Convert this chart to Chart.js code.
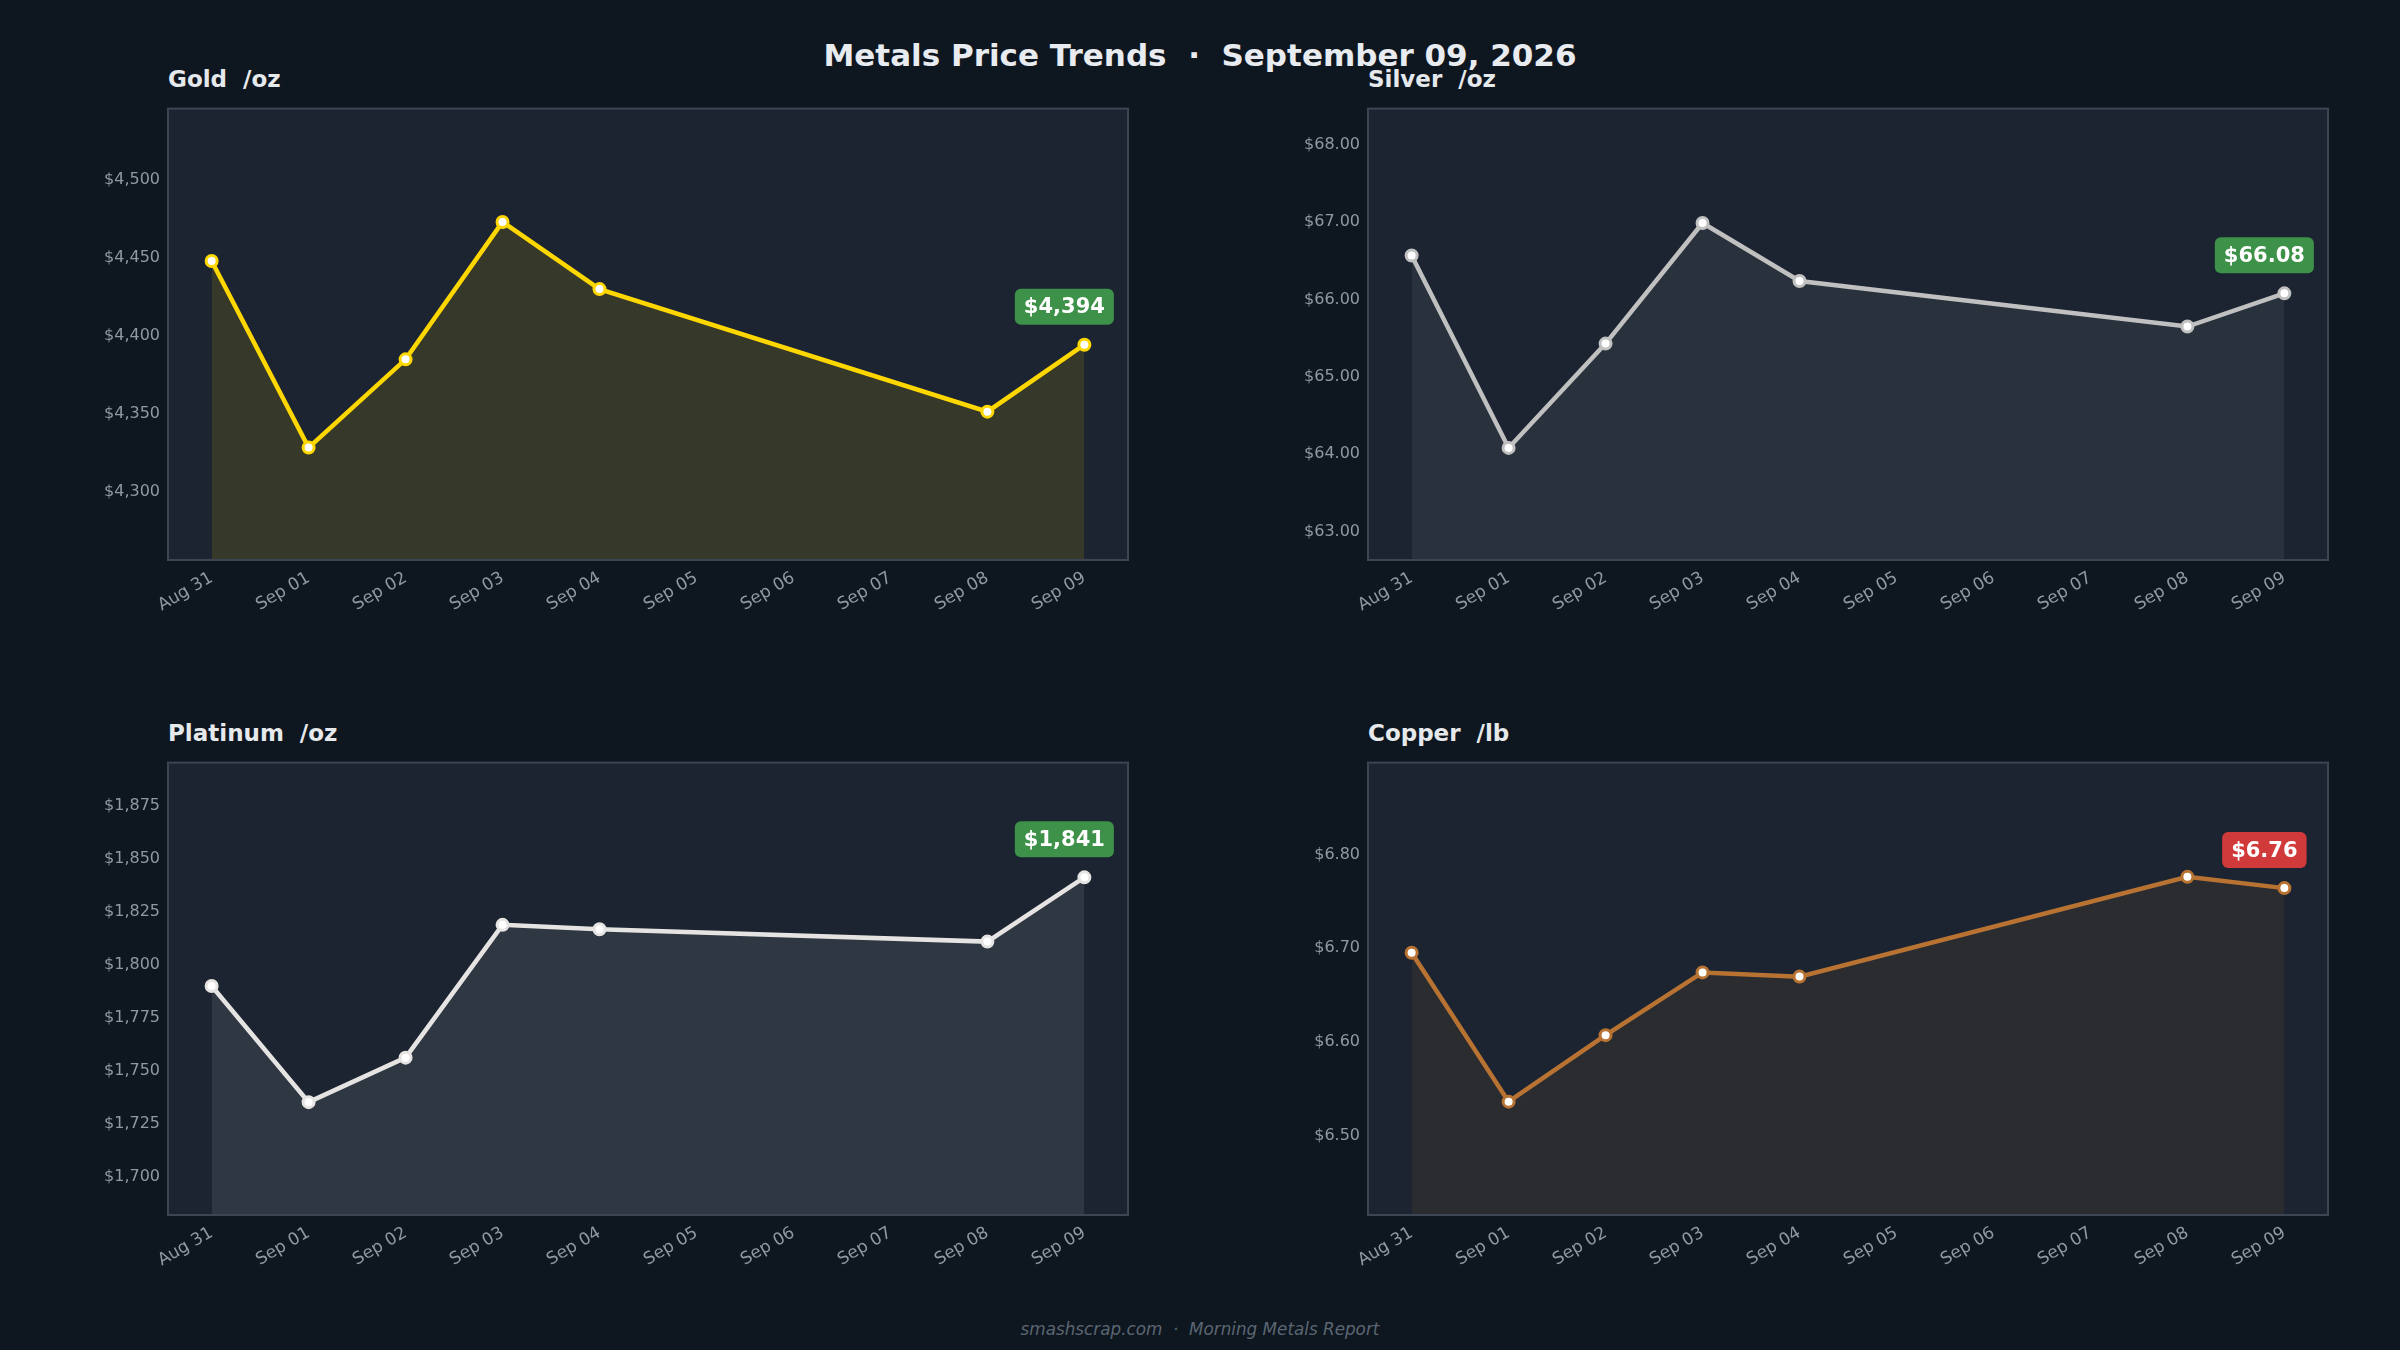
<!DOCTYPE html>
<html>
<head>
<meta charset="utf-8">
<script src="https://cdn.jsdelivr.net/npm/chart.js@4"></script>
<style>
  body { margin: 0; background: #0e1620; width: 2400px; height: 1350px; overflow: hidden; font-family: "DejaVu Sans", sans-serif; }
  .txt { position: absolute; white-space: pre; line-height: 1; }
  #title { left: 0; width: 2400px; top: 40px; text-align: center; font-size: 31px; font-weight: bold; color: #e8ebef; }
  .sub { font-size: 23px; font-weight: bold; color: #e6e9ec; }
  #footer { left: 0; width: 2400px; top: 1321px; text-align: center; font-size: 16.8px; font-style: italic; color: #5c6672; }
  .box { position: absolute; }
</style>
</head>
<body>
<div id="title" class="txt">Metals Price Trends  ·  September 09, 2026</div>
<div class="txt sub" style="left:168px;top:68px">Gold  /oz</div>
<div class="txt sub" style="left:1368px;top:68px">Silver  /oz</div>
<div class="txt sub" style="left:168px;top:722px">Platinum  /oz</div>
<div class="txt sub" style="left:1368px;top:722px">Copper  /lb</div>
<div id="footer" class="txt">smashscrap.com  ·  Morning Metals Report</div>

<div class="box" style="left:58px;top:91px"><canvas id="gold" width="1080" height="559"></canvas></div>
<div class="box" style="left:1258px;top:91px"><canvas id="silver" width="1080" height="559"></canvas></div>
<div class="box" style="left:58px;top:745px"><canvas id="platinum" width="1080" height="560"></canvas></div>
<div class="box" style="left:1258px;top:745px"><canvas id="copper" width="1080" height="560"></canvas></div>

<script>
// dates on the x axis (no prices for Sep 05-07)
var dates = ['Aug 31', 'Sep 01', 'Sep 02', 'Sep 03', 'Sep 04', 'Sep 05', 'Sep 06', 'Sep 07', 'Sep 08', 'Sep 09'];

var gold     = [4448, 4328.5, 4385, 4473, 4430, null, null, null, 4351.5, 4394.4];
var silver   = [66.57, 64.08, 65.43, 66.99, 66.24, null, null, null, 65.65, 66.08];
var platinum = [1790, 1735.2, 1756.2, 1818.8, 1816.7, null, null, null, 1810.9, 1841.2];
var copper   = [6.695, 6.536, 6.607, 6.674, 6.6695, null, null, null, 6.776, 6.764];

var goldTicks     = [4300, 4350, 4400, 4450, 4500];
var silverTicks   = [63, 64, 65, 66, 67, 68];
var platinumTicks = [1700, 1725, 1750, 1775, 1800, 1825, 1850, 1875];
var copperTicks   = [6.5, 6.6, 6.7, 6.8];

// visible y range of each panel
var goldRange     = [4256.5, 4545.6];
var silverRange   = [62.63, 68.47];
var platinumRange = [1682, 1895.3];
var copperRange   = [6.415, 6.898];

function money(v, dec) {
  return '$' + v.toLocaleString('en-US', { minimumFractionDigits: dec, maximumFractionDigits: dec });
}

// plot background + frame
var panelBg = {
  id: 'panelBg',
  beforeDraw: function(chart) {
    var a = chart.chartArea, ctx = chart.ctx;
    ctx.save();
    ctx.fillStyle = '#1b2430';
    ctx.fillRect(a.left, a.top, a.right - a.left, a.bottom - a.top);
    ctx.restore();
  },
  afterDraw: function(chart) {
    var a = chart.chartArea, ctx = chart.ctx;
    ctx.save();
    ctx.strokeStyle = '#3b4652';
    ctx.lineWidth = 2;
    ctx.strokeRect(a.left, a.top, a.right - a.left, a.bottom - a.top);
    ctx.restore();
  }
};

// last price badge, green if up from previous point, red if down
var badge = {
  id: 'badge',
  afterDatasetsDraw: function(chart) {
    var ds = chart.data.datasets[0];
    var pts = chart.getDatasetMeta(0).data;
    var n = ds.data.length;
    var last = ds.data[n - 1].y, prev = ds.data[n - 2].y;
    var p = pts[n - 1];
    var ctx = chart.ctx;
    var txt = money(last, chart.options.plugins.badge.dec);
    ctx.save();
    ctx.font = 'bold 21px "DejaVu Sans"';
    var w = ctx.measureText(txt).width + 18, h = 36;
    var cx = p.x - 20, cy = p.y - 38;
    ctx.fillStyle = last >= prev ? '#3d9148' : '#d13a3a';
    ctx.beginPath();
    ctx.roundRect(cx - w / 2, cy - h / 2, w, h, 6);
    ctx.fill();
    ctx.fillStyle = '#ffffff';
    ctx.textAlign = 'center';
    ctx.textBaseline = 'middle';
    ctx.fillText(txt, cx, cy + 1);
    ctx.restore();
  }
};

function makeChart(id, values, ticks, range, dec, color, fillColor) {
  var pts = [];
  values.forEach(function(v, i) { if (v !== null) pts.push({ x: i, y: v }); });
  return new Chart(document.getElementById(id), {
    type: 'line',
    data: {
      datasets: [{
        data: pts,
        borderColor: color,
        borderWidth: 4.5,
        backgroundColor: fillColor,
        fill: 'start',
        tension: 0,
        pointRadius: 5.5,
        pointBorderWidth: 3,
        pointBackgroundColor: '#ffffff',
        pointBorderColor: color
      }]
    },
    options: {
      responsive: false,
      devicePixelRatio: 1,
      animation: false,
      layout: { padding: { top: 0, right: 10, left: 0, bottom: 0 } },
      plugins: { legend: { display: false }, tooltip: { enabled: false }, badge: { dec: dec } },
      scales: {
        x: {
          type: 'linear',
          min: -0.45,
          max: 9.45,
          grid: { display: false, drawTicks: false },
          border: { display: false },
          afterBuildTicks: function(s) { s.ticks = dates.map(function(d, i) { return { value: i }; }); },
          afterFit: function(s) { s.height = 90; },
          ticks: {
            color: '#8e99a4',
            font: { family: 'DejaVu Sans', size: 17 },
            minRotation: 30,
            maxRotation: 30,
            autoSkip: false,
            padding: 8,
            callback: function(v) { return dates[v]; }
          }
        },
        y: {
          min: range[0],
          max: range[1],
          grid: { display: false, drawTicks: false },
          border: { display: false },
          afterBuildTicks: function(s) { s.ticks = ticks.map(function(v) { return { value: v }; }); },
          afterFit: function(s) { s.width = 110; },
          ticks: {
            color: '#8e99a4',
            font: { family: 'DejaVu Sans', size: 16 },
            padding: 8,
            callback: function(v) { return money(v, dec); }
          }
        }
      }
    },
    plugins: [panelBg, badge]
  });
}

makeChart('gold', gold, goldTicks, goldRange, 0, '#ffd700', 'rgba(255,215,0,0.12)');
makeChart('silver', silver, silverTicks, silverRange, 2, '#c0c0c0', 'rgba(192,192,192,0.09)');
makeChart('platinum', platinum, platinumTicks, platinumRange, 0, '#e5e4e2', 'rgba(229,228,226,0.1)');
makeChart('copper', copper, copperTicks, copperRange, 2, '#b87333', 'rgba(184,115,51,0.1)');
</script>
</body>
</html>
